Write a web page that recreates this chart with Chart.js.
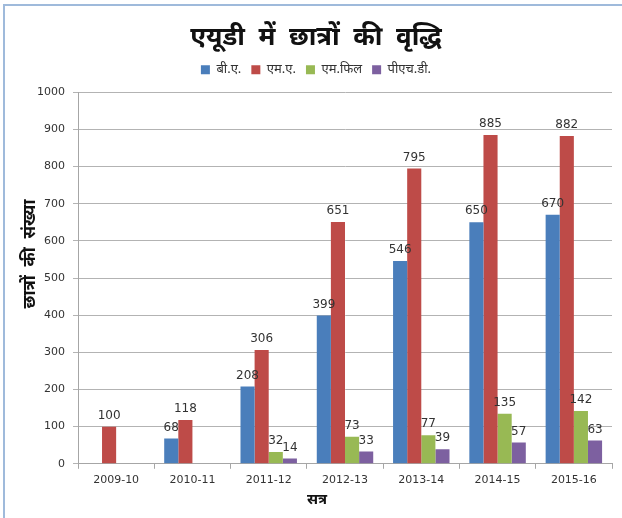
<!DOCTYPE html>
<html>
<head>
<meta charset="utf-8">
<script src="https://cdn.jsdelivr.net/npm/chart.js@4"></script>
<style>
  html, body { margin: 0; padding: 0; background: #fff; overflow: hidden; }
  #frame {
    position: relative;
    width: 622px; height: 518px;
    overflow: hidden;
  }
  #frame::before {
    content: ''; position: absolute; left: 3px; top: 4px; right: -20px; bottom: -20px;
    border-left: 2px solid #9fbadb; border-top: 2px solid #9fbadb;
    pointer-events: none;
  }
  canvas { display: block; }
</style>
</head>
<body>
<div id="frame"><canvas id="growthChart" width="622" height="518"></canvas></div>
<script>
const sessions = ['2009-10', '2010-11', '2011-12', '2012-13', '2013-14', '2014-15', '2015-16'];
const baValues = [null, 68, 208, 399, 546, 650, 670];
const maValues = [100, 118, 306, 651, 795, 885, 882];
const mphilValues = [null, null, 32, 73, 77, 135, 142];
const phdValues = [null, null, 14, 33, 39, 57, 63];

const xTitle = 'सत्र';
const yTitle = 'छात्रों  की  संख्या';

const hindiFont = "'Noto Sans', 'DejaVu Sans', sans-serif";

// draws the value above each bar, like the excel labels
const valueLabels = {
    id: 'valueLabels',
    afterDatasetsDraw(chart) {
        const c = chart.ctx;
        c.save();
        c.font = '12px "DejaVu Sans", sans-serif';
        c.fillStyle = '#333';
        c.textAlign = 'center';
        c.textBaseline = 'bottom';
        chart.data.datasets.forEach((ds, i) => {
            chart.getDatasetMeta(i).data.forEach((bar, j) => {
                const v = ds.data[j];
                if (v === null || v === undefined) return;
                c.fillText(v, bar.x, bar.y - 5);
            });
        });
        c.restore();
    }
};

// a bit more room between legend and plot
const legendGap = {
    id: 'legendGap',
    beforeInit(chart) {
        const origFit = chart.legend.fit;
        chart.legend.fit = function () {
            origFit.bind(chart.legend)();
            this.height += 6;
        };
    }
};

// axis titles sit a little off-centre in the original, so draw them by hand
const axisTitles = {
    id: 'axisTitles',
    afterDraw(chart) {
        const c = chart.ctx;
        const area = chart.chartArea;
        c.save();
        c.fillStyle = '#111';
        c.textAlign = 'center';
        c.textBaseline = 'middle';
        c.font = 'bold 15px ' + hindiFont;
        c.fillText(xTitle, (area.left + area.right) / 2 - 28, chart.scales.x.bottom - 10);
        c.translate(chart.scales.y.left + 10, (area.top + area.bottom) / 2 - 24);
        c.rotate(-Math.PI / 2);
        c.font = 'bold 17px ' + hindiFont;
        c.fillText(yTitle, 0, 0);
        c.restore();
    }
};

const ctx = document.getElementById('growthChart').getContext('2d');
new Chart(ctx, {
    type: 'bar',
    data: {
        labels: sessions,
        datasets: [
            { label: 'बी.ए.', data: baValues, backgroundColor: '#4a7ebb' },
            { label: 'एम.ए.', data: maValues, backgroundColor: '#be4b48' },
            { label: 'एम.फिल', data: mphilValues, backgroundColor: '#98b954' },
            { label: 'पीएच.डी.', data: phdValues, backgroundColor: '#7d60a0' }
        ]
    },
    options: {
        responsive: false,
        animation: false,
        layout: { padding: { left: 20, right: 10, top: 10, bottom: 8 } },
        datasets: {
            bar: { categoryPercentage: 0.74, barPercentage: 1 }
        },
        plugins: {
            title: {
                display: true,
                text: 'एयूडी  में  छात्रों  की  वृद्धि',
                font: { family: hindiFont, size: 26, weight: 'bold' },
                color: '#111',
                padding: { top: 12, bottom: 0 }
            },
            legend: {
                labels: {
                    boxWidth: 9,
                    boxHeight: 9,
                    padding: 10,
                    color: '#333',
                    font: { family: hindiFont, size: 13 }
                }
            },
            tooltip: { enabled: false }
        },
        scales: {
            x: {
                grid: {
                    drawOnChartArea: false,
                    drawTicks: true,
                    tickLength: 5,
                    offset: true,
                    color: '#a6a6a6'
                },
                border: { color: '#a6a6a6' },
                ticks: { color: '#333', font: { family: "'DejaVu Sans', sans-serif", size: 11 }, padding: 5 },
                title: {
                    // space kept here, text drawn by axisTitles
                    display: true,
                    text: xTitle,
                    color: 'rgba(0,0,0,0)',
                    font: { family: hindiFont, size: 15, weight: 'bold' },
                    padding: { top: 0, bottom: 0 }
                }
            },
            y: {
                min: 0,
                max: 1000,
                afterFit: scale => { scale.width = 58; },
                ticks: {
                    stepSize: 100,
                    color: '#333',
                    font: { family: "'DejaVu Sans', sans-serif", size: 11 },
                    padding: 8,
                    callback: v => String(v)
                },
                grid: { color: '#b3b3b3', tickLength: 5 },
                border: { color: '#a6a6a6' },
                title: { display: false }
            }
        }
    },
    plugins: [valueLabels, legendGap, axisTitles]
});
</script>
</body>
</html>
